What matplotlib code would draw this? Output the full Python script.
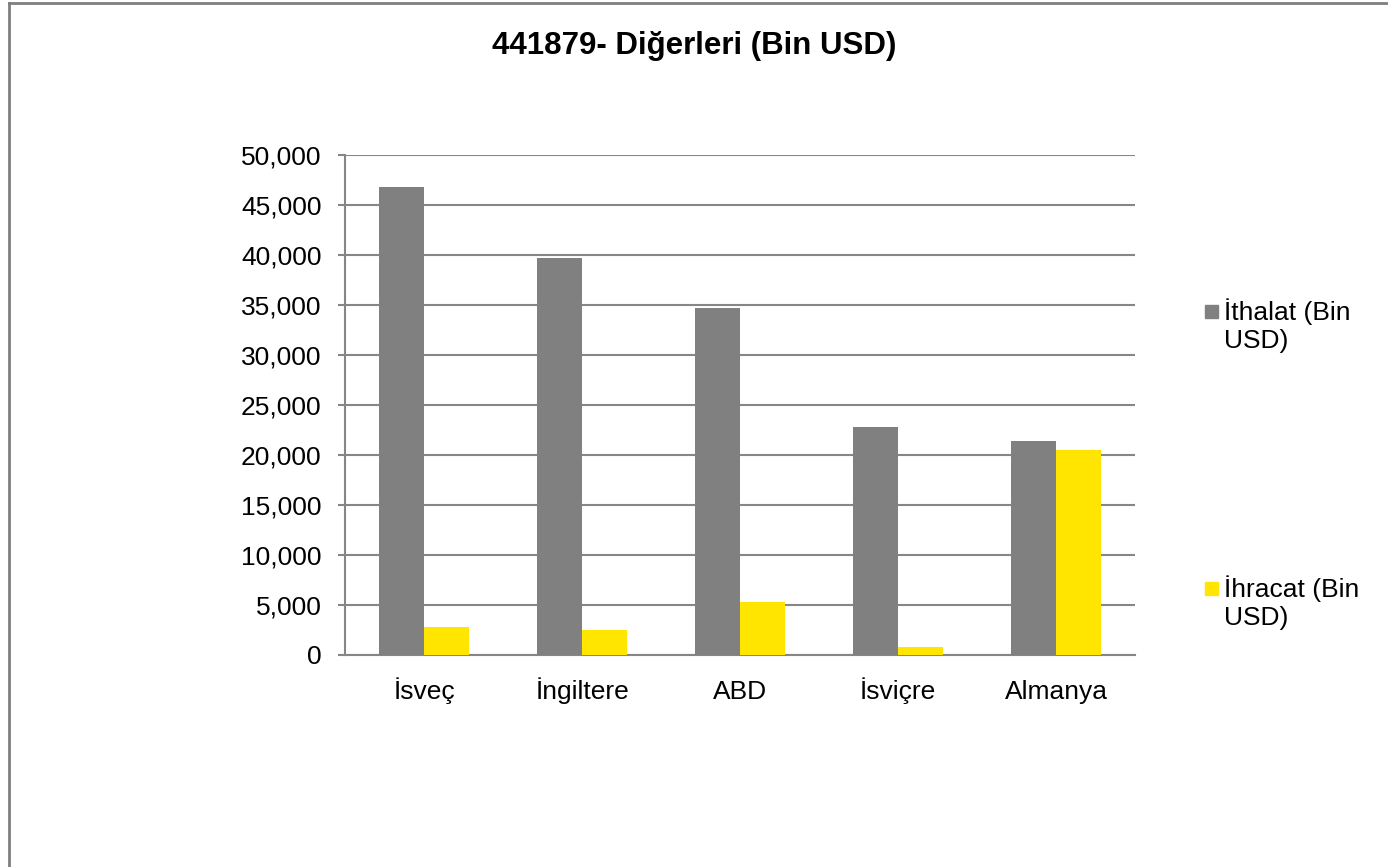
import numpy as np
import matplotlib.pyplot as plt
from matplotlib.patches import Rectangle
from matplotlib.lines import Line2D
from matplotlib.ticker import FuncFormatter

plt.rcParams['font.family'] = ['Liberation Sans', 'DejaVu Sans']

# 441879 - imports / exports by country, thousand USD
countries = ['İsveç', 'İngiltere', 'ABD', 'İsviçre', 'Almanya']
ithalat = [46800, 39700, 34650, 22800, 21400]
ihracat = [2800, 2500, 5350, 800, 20500]
series_names = ['İthalat (Bin\nUSD)', 'İhracat (Bin\nUSD)']
colors = ['#808080', '#FFE500']
yticks = np.arange(0, 50001, 5000)

W, H = 1388, 867
fig = plt.figure(figsize=(W / 100, H / 100), dpi=100)
ax = fig.add_axes([345 / W, 1 - 655 / H, 790 / W, 500 / H])

x = np.arange(len(countries))
w = 0.285
ax.bar(x - w / 2, ithalat, width=w, color=colors[0], zorder=3)
ax.bar(x + w / 2, ihracat, width=w, color=colors[1], zorder=3)

ax.set_xlim(-0.5, len(countries) - 0.5)
ax.set_ylim(0, 50000)
ax.set_yticks(yticks)
ax.yaxis.set_major_formatter(FuncFormatter(lambda v, p: f'{int(v):,}'))
ax.set_xticks(x)
ax.set_xticklabels(countries, va='baseline')

grid_c = '#868686'
ax.grid(axis='y', color=grid_c, linewidth=1.5, zorder=0)
for s in ['top', 'right']:
    ax.spines[s].set_visible(False)
for s in ['left', 'bottom']:
    ax.spines[s].set_color(grid_c)
    ax.spines[s].set_linewidth(1.5)
ax.tick_params(axis='y', labelsize=19, length=5, width=1.5, color=grid_c, pad=12)
ax.tick_params(axis='x', labelsize=19, length=0, pad=32)

fig.text(0.5, 1 - 46 / H, '441879- Diğerleri (Bin USD)', ha='center', va='center',
         fontsize=22.5, fontweight='bold')

# legend entries on the right, square beside the first text line
leg_y = [311, 588]
for name, c, yy in zip(series_names, colors, leg_y):
    fig.patches.append(Rectangle((1205 / W, 1 - (yy + 7) / H), 13 / W, 13 / H,
                                 transform=fig.transFigure, color=c))
    fig.text(1224 / W, 1 - (yy - 13) / H, name, ha='left', va='top',
             fontsize=19, linespacing=1.25, transform=fig.transFigure)

# chart frame
fig.lines.append(Line2D([9 / W, 9 / W], [0, 1 - 2.5 / H],
                        transform=fig.transFigure, color='#7f7f7f', linewidth=2))
fig.lines.append(Line2D([9 / W, 1], [1 - 2.5 / H, 1 - 2.5 / H],
                        transform=fig.transFigure, color='#7f7f7f', linewidth=2))

fig.savefig('out.png', dpi=100)
